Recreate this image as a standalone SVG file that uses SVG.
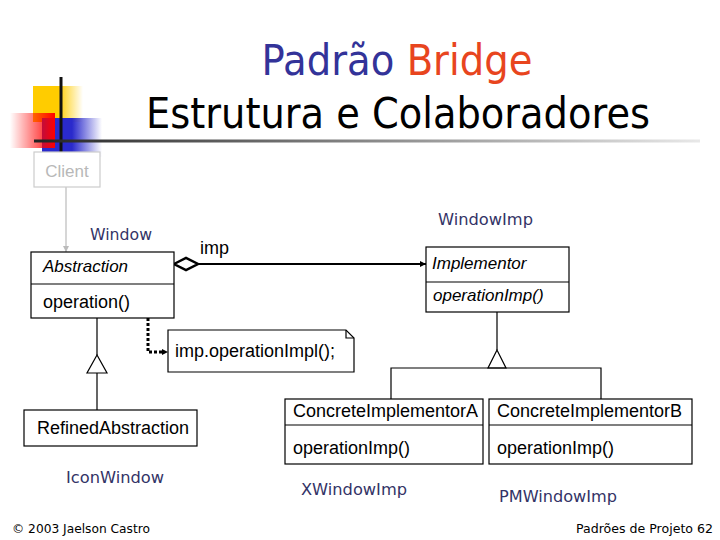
<svg xmlns="http://www.w3.org/2000/svg" width="720" height="540" viewBox="0 0 720 540">
<defs>
<style>
.box{fill:#fff;stroke:#000;stroke-width:1.2}
.ln{fill:none;stroke:#000;stroke-width:1.2}
.t{font-family:"Liberation Sans",Arial,sans-serif;font-size:18px;fill:#000}
.i{font-style:italic}
.nv{font-family:"DejaVu Sans",Verdana,sans-serif;font-size:16px;fill:#333366}
.ft{font-family:"DejaVu Sans",Verdana,sans-serif;font-size:13px;fill:#000}
</style>
<linearGradient id="gy" x1="0" y1="0" x2="1" y2="0"><stop offset="0" stop-color="#ffcc00"/><stop offset="0.5" stop-color="#ffcc00"/><stop offset="1" stop-color="#ffcc00" stop-opacity="0"/></linearGradient>
<linearGradient id="gr" x1="0" y1="0" x2="1" y2="0"><stop offset="0" stop-color="#ff0000" stop-opacity="0"/><stop offset="1" stop-color="#ff0000"/></linearGradient>
<linearGradient id="gb" x1="0" y1="0" x2="1" y2="0"><stop offset="0" stop-color="#2a2acc"/><stop offset="0.5" stop-color="#2a2acc"/><stop offset="1" stop-color="#2a2acc" stop-opacity="0"/></linearGradient>
<linearGradient id="gl" x1="0" y1="0" x2="1" y2="0"><stop offset="0" stop-color="#222"/><stop offset="0.15" stop-color="#444"/><stop offset="1" stop-color="#e8e8e8"/></linearGradient>
<marker id="ah" viewBox="0 0 6 6" refX="6" refY="3" markerWidth="6" markerHeight="6" markerUnits="userSpaceOnUse" orient="auto"><path d="M0,0 L6,3 L0,6 Z" fill="#000"/></marker>
<marker id="ahg" viewBox="0 0 6 6" refX="6" refY="3" markerWidth="6" markerHeight="6" markerUnits="userSpaceOnUse" orient="auto"><path d="M0,0 L6,3 L0,6 Z" fill="#bbb"/></marker>
</defs>
<rect width="720" height="540" fill="#fff"/>
<g id="logo">
<rect x="33" y="86" width="50" height="36" fill="url(#gy)"/>
<rect x="42" y="118" width="60" height="39" fill="url(#gb)"/>
<rect x="10" y="113" width="45" height="35" fill="url(#gr)"/>
<line x1="61" y1="77" x2="61" y2="160" stroke="#111" stroke-width="3"/>
</g>
<rect x="34" y="139.5" width="666" height="3" fill="url(#gl)"/>
<g id="title">
<text x="397" y="75" text-anchor="middle" font-family="DejaVu Sans,Verdana,sans-serif" font-size="42" textLength="271" lengthAdjust="spacingAndGlyphs"><tspan fill="#333399">Padrão </tspan><tspan fill="#e8451e">Bridge</tspan></text>
<text x="146" y="128" font-family="DejaVu Sans,Verdana,sans-serif" font-size="42" fill="#000" textLength="504" lengthAdjust="spacingAndGlyphs">Estrutura e Colaboradores</text>
</g>
<g id="connectors">
<line x1="66" y1="187" x2="66" y2="252" stroke="#bbb" stroke-width="1.2" marker-end="url(#ahg)"/>
<path d="M174,264 L186,258 L198,264 L186,270 Z" fill="#fff" stroke="#000" stroke-width="2.5"/>
<line x1="198" y1="264" x2="426" y2="264" stroke="#000" stroke-width="2" marker-end="url(#ah)"/>
<path class="ln" d="M97,318 V355 M97,373 V410"/>
<path class="ln" d="M97,355 L87,373 L107,373 Z" fill="#fff"/>
<path class="ln" d="M497,312 V350 M391,399 V368 H601 V399"/>
<path class="ln" d="M497,350 L488,368 L506,368 Z" fill="#fff"/>
<circle cx="148" cy="303" r="4.5" fill="#fff" stroke="#000" stroke-width="3"/>
<path d="M148,308 V352 H162" fill="none" stroke="#000" stroke-width="3" stroke-dasharray="3,2"/>
<path d="M162,349 L168,352 L162,355 Z" fill="#000"/>
</g>
<g id="client">
<rect x="34" y="152" width="66" height="35" fill="#fff" stroke="#ccc" stroke-width="1.2"/>
<text x="67" y="177" text-anchor="middle" class="t" font-size="17" fill="#bbb" style="fill:#b8b8b8;font-size:17px">Client</text>
</g>
<g id="abstraction">
<rect class="box" x="31" y="252" width="143" height="66"/>
<line class="ln" x1="31" y1="284" x2="174" y2="284"/>
<text class="t i" x="43" y="272" style="font-size:17px">Abstraction</text>
<text class="t" x="43" y="308">operation()</text>
<text class="nv" x="90" y="240" textLength="62" lengthAdjust="spacingAndGlyphs">Window</text>
<text class="t" x="200" y="254">imp</text>
</g>
<g id="note">
<path d="M168,330 H346 L354,338 V372 H168 Z" fill="#fff" stroke="#000" stroke-width="1.2"/>
<path class="ln" d="M346,330 V338 H354"/>
<text class="t" x="175" y="357">imp.operationImpl();</text>
</g>
<g id="implementor">
<rect class="box" x="426" y="247" width="143" height="65"/>
<line class="ln" x1="426" y1="282" x2="569" y2="282"/>
<text class="t i" x="432" y="269" style="font-size:17px">Implementor</text>
<text class="t i" x="433" y="301" style="font-size:17px">operationImp()</text>
<text class="nv" x="438" y="225" textLength="95" lengthAdjust="spacingAndGlyphs">WindowImp</text>
</g>
<g id="refined">
<rect class="box" x="24" y="410" width="173" height="36"/>
<text class="t" x="37" y="434">RefinedAbstraction</text>
<text class="nv" x="66" y="483" textLength="98" lengthAdjust="spacingAndGlyphs">IconWindow</text>
</g>
<g id="concreteA">
<rect class="box" x="285" y="399" width="198" height="65"/>
<line class="ln" x1="285" y1="425" x2="483" y2="425"/>
<text class="t" x="293" y="417">ConcreteImplementorA</text>
<text class="t" x="293" y="454">operationImp()</text>
<text class="nv" x="301" y="495" textLength="106" lengthAdjust="spacingAndGlyphs">XWindowImp</text>
</g>
<g id="concreteB">
<rect class="box" x="489" y="399" width="203" height="65"/>
<line class="ln" x1="489" y1="425" x2="692" y2="425"/>
<text class="t" x="497" y="417">ConcreteImplementorB</text>
<text class="t" x="497" y="454">operationImp()</text>
<text class="nv" x="499" y="502" textLength="118" lengthAdjust="spacingAndGlyphs">PMWindowImp</text>
</g>
<g id="footer">
<text class="ft" x="12" y="533" textLength="138" lengthAdjust="spacingAndGlyphs">© 2003 Jaelson Castro</text>
<text class="ft" x="713" y="533" text-anchor="end" textLength="137" lengthAdjust="spacingAndGlyphs">Padrões de Projeto 62</text>
</g>
</svg>
